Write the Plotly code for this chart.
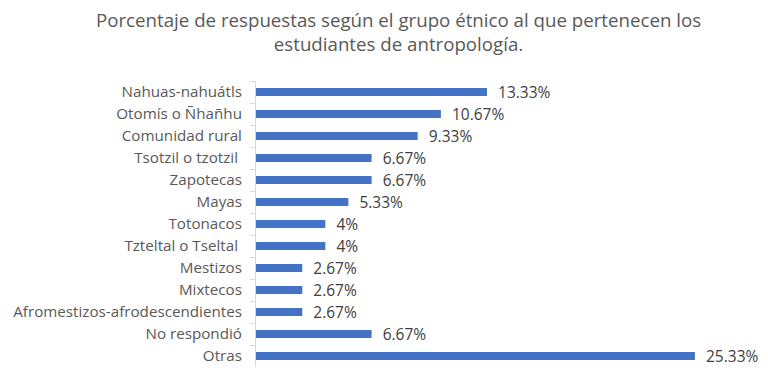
import plotly.graph_objects as go

categories = ["Nahuas-nahuátls", "Otomís o Ñhañhu", "Comunidad rural", "Tsotzil o tzotzil ",
              "Zapotecas", "Mayas", "Totonacos", "Tzteltal o Tseltal ", "Mestizos", "Mixtecos",
              "Afromestizos-afrodescendientes", "No respondió", "Otras"]
values = [13.33, 10.67, 9.33, 6.67, 6.67, 5.33, 4, 4, 2.67, 2.67, 2.67, 6.67, 25.33]
labels = ["13.33%", "10.67%", "9.33%", "6.67%", "6.67%", "5.33%", "4%", "4%",
          "2.67%", "2.67%", "2.67%", "6.67%", "25.33%"]
title_lines = ["Porcentaje de respuestas según el grupo étnico al que pertenecen los",
               "estudiantes de antropología."]

fig = go.Figure(go.Bar(
    y=categories, x=values, orientation="h",
    marker=dict(color="#4472C4", line=dict(width=0)),
    text=["  " + t for t in labels], textposition="outside", cliponaxis=False,
    constraintext="none",
    textfont=dict(family="Open Sans", size=15.5, color="#404040"),
    width=0.36,
))

fig.update_layout(
    width=768, height=376,
    margin=dict(l=248, r=36, t=73, b=17, autoexpand=False),
    paper_bgcolor="white", plot_bgcolor="white",
    showlegend=False,
    font=dict(family="Open Sans"),
    annotations=[dict(text="<br>".join(title_lines), xref="paper", yref="paper",
                      x=(390 - 248) / (768 - 248 - 36), y=1, yanchor="bottom", yshift=23,
                      xanchor="center", showarrow=False, align="center",
                      font=dict(family="Open Sans", size=18.7, color="#595959"))],
)
fig.update_yaxes(autorange="reversed", showline=True, linecolor="#d9d9d9", linewidth=1,
                 ticks="outside", ticklen=5, tickcolor="#d9d9d9", tickson="boundaries",
                 ticklabelstandoff=10, automargin=False,
                 tickfont=dict(family="Open Sans", size=15.2, color="#595959"), showgrid=False)
fig.update_xaxes(range=[0, 27.93], visible=False, automargin=False)

fig.write_html("out.html")
